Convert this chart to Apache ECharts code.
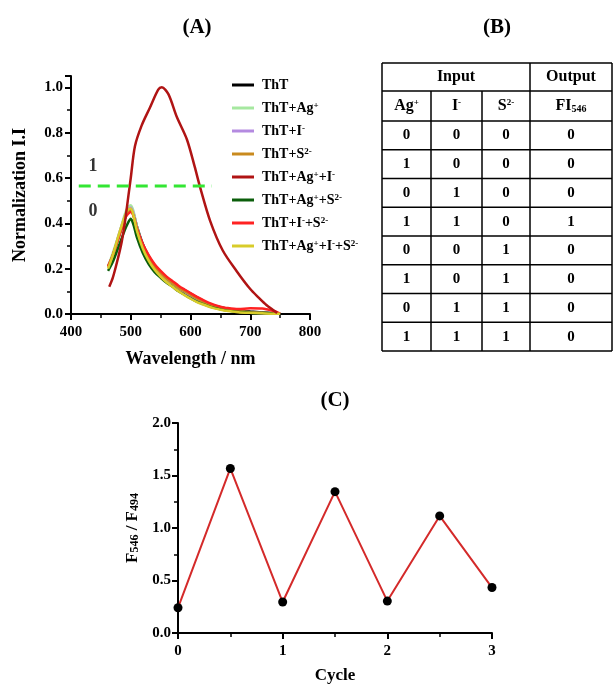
<!DOCTYPE html>
<html>
<head>
<meta charset="utf-8">
<script src="https://cdn.jsdelivr.net/npm/echarts@6/dist/echarts.min.js"></script>
<style>html,body{margin:0;padding:0;background:#fff}#c{width:613px;height:685px}</style>
</head>
<body>
<div id="c"></div>
<script>
// ---------- Panel A data ----------
const wavelengths = [462,470,480,490,495,500,505,510,520,530,540,550,560,570,580,590,600,610,620,630,640,650,660,680,700,720,740,750];
const thtVals      = [0.21,0.26,0.34,0.42,0.45,0.46,0.44,0.39,0.31,0.255,0.215,0.185,0.16,0.14,0.12,0.105,0.09,0.075,0.06,0.047,0.037,0.03,0.024,0.016,0.011,0.007,0.003,0.001];
const thtAgVals    = [0.21,0.27,0.35,0.44,0.47,0.48,0.45,0.39,0.30,0.24,0.20,0.17,0.145,0.125,0.105,0.09,0.075,0.06,0.048,0.037,0.028,0.022,0.017,0.01,0.006,0.004,0.002,0.001];
const thtIVals     = [0.21,0.26,0.35,0.43,0.46,0.47,0.44,0.38,0.30,0.245,0.205,0.175,0.15,0.13,0.11,0.093,0.078,0.063,0.05,0.039,0.03,0.023,0.018,0.011,0.007,0.004,0.002,0.001];
const thtSVals     = [0.21,0.26,0.34,0.42,0.45,0.46,0.43,0.38,0.30,0.25,0.21,0.18,0.155,0.135,0.115,0.1,0.085,0.07,0.056,0.044,0.034,0.027,0.021,0.013,0.008,0.005,0.002,0.001];
const thtAgSVals   = [0.19,0.23,0.30,0.37,0.40,0.42,0.39,0.34,0.27,0.22,0.185,0.16,0.138,0.12,0.1,0.085,0.07,0.056,0.045,0.035,0.027,0.021,0.016,0.01,0.006,0.004,0.002,0.001];
const thtISVals    = [0.21,0.26,0.34,0.42,0.44,0.45,0.43,0.38,0.31,0.26,0.22,0.19,0.165,0.145,0.125,0.108,0.092,0.077,0.063,0.05,0.04,0.032,0.027,0.022,0.025,0.024,0.012,0.002];
const thtAgISVals  = [0.20,0.26,0.35,0.43,0.46,0.465,0.43,0.37,0.29,0.235,0.195,0.165,0.14,0.12,0.1,0.083,0.068,0.054,0.043,0.033,0.025,0.019,0.014,0.008,0.005,0.003,0.001,0.001];
const agIWavelengths = [464,470,479,485,490,496,500,507,518,532,546,552,563,577,594,607,616,633,654,677,700,715,727,737,745];
const thtAgIVals     = [0.12,0.16,0.25,0.32,0.40,0.52,0.60,0.74,0.83,0.91,0.99,1.0,0.97,0.87,0.77,0.65,0.56,0.41,0.28,0.19,0.11,0.07,0.04,0.02,0.005];
const thresholdX = [413, 636];
const thresholdY = 0.565;
const logicLabels = [[437, 0.652, '1'], [437, 0.454, '0']];

const seriesNames = ['ThT','ThT+Ag+','ThT+I-','ThT+S2-','ThT+Ag+ +I-','ThT+Ag+ +S2-','ThT+I- +S2-','ThT+Ag+ +I- +S2-'];
const legendLabels = ['ThT','ThT+Ag{sup|+}','ThT+I{sup|-}','ThT+S{sup|2-}','ThT+Ag{sup|+}+I{sup|-}','ThT+Ag{sup|+}+S{sup|2-}','ThT+I{sup|-}+S{sup|2-}','ThT+Ag{sup|+}+I{sup|-}+S{sup|2-}'];
const seriesColors = ['#000000','#a6e8a0','#b48ae0','#c98a1e','#b01414','#0b5e0b','#ff2222','#d8cc2a'];

// ---------- Panel B data ----------
const tableInputHeaders = ['Ag{sup|+}','I{sup|-}','S{sup|2-}'];
const tableOutputHeader = 'FI{sub|546}';
const tableRows = [[0,0,0,0],[1,0,0,0],[0,1,0,0],[1,1,0,1],[0,0,1,0],[1,0,1,0],[0,1,1,0],[1,1,1,0]];

// ---------- Panel C data ----------
const cycles = [0,0.5,1,1.5,2,2.5,3];
const ratios = [0.24,1.567,0.295,1.346,0.304,1.115,0.433];

const FONT = '"Liberation Serif", "Times New Roman", serif';
const chart = echarts.init(document.getElementById('c'), null, {renderer:'canvas'});

const specData = [thtVals,thtAgVals,thtIVals,thtSVals,null,thtAgSVals,thtISVals,thtAgISVals];
const series = [];
seriesNames.forEach((n,i)=>{
  let data;
  if (i === 4) data = agIWavelengths.map((w,k)=>[w,thtAgIVals[k]]);
  else data = wavelengths.map((w,k)=>[w,specData[i][k]]);
  series.push({name:n,type:'line',xAxisIndex:0,yAxisIndex:0,data,showSymbol:false,symbol:'none',
    smooth:0.3,lineStyle:{width:2.5,color:seriesColors[i]},itemStyle:{color:seriesColors[i]},z:i===4?3:2});
});
series.push({name:'threshold',type:'line',xAxisIndex:0,yAxisIndex:0,symbol:'none',
  data:thresholdX.map(x=>[x,thresholdY]),lineStyle:{color:'#33e633',width:3,type:[12,7]},z:5});
series.push({name:'logic',type:'scatter',xAxisIndex:0,yAxisIndex:0,symbolSize:0,
  data:logicLabels,label:{show:true,position:'inside',formatter:p=>p.value[2],
  fontFamily:FONT,fontWeight:'bold',fontSize:18,color:'#000'}});
series.push({name:'cycle',type:'line',xAxisIndex:1,yAxisIndex:1,data:cycles.map((c,i)=>[c,ratios[i]]),
  symbol:'circle',symbolSize:9,itemStyle:{color:'#000'},lineStyle:{color:'#d42a2a',width:2}});

function axisCommon(fs, margin){
  return {
    axisLine:{show:true,onZero:false,lineStyle:{color:'#000',width:2}},
    axisTick:{show:true,inside:false,length:6,lineStyle:{color:'#000',width:2}},
    minorTick:{show:true,splitNumber:2,length:4,lineStyle:{color:'#000',width:1.5}},
    splitLine:{show:false},
    axisLabel:{color:'#000',fontFamily:FONT,fontWeight:'bold',fontSize:fs,margin:margin},
    nameTextStyle:{color:'#000',fontFamily:FONT,fontWeight:'bold'}
  };
}

// Table graphics
const colX = [382,431,482,530,612];
const rowY = [63,91,121];
for (let i=1;i<=tableRows.length;i++) rowY.push(121 + i*28.75);
const tableGraphic = [];
const LS = {stroke:'#000',lineWidth:1.5};
rowY.forEach((y,i)=>{
  tableGraphic.push({type:'line',shape:{x1:colX[0],y1:y,x2:colX[4],y2:y},style:LS});
});
[0,3,4].forEach(ci=>{
  tableGraphic.push({type:'line',shape:{x1:colX[ci],y1:rowY[0],x2:colX[ci],y2:rowY[rowY.length-1]},style:LS});
});
[1,2].forEach(ci=>{
  tableGraphic.push({type:'line',shape:{x1:colX[ci],y1:rowY[1],x2:colX[ci],y2:rowY[rowY.length-1]},style:LS});
});
const richT = {
  sup:{fontFamily:FONT,fontWeight:'bold',fontSize:9,verticalAlign:'top',fill:'#000',lineHeight:16},
  sub:{fontFamily:FONT,fontWeight:'bold',fontSize:10,verticalAlign:'bottom',fill:'#000',lineHeight:16}
};
function cellText(txt,cx,cy,fs){
  return {type:'text',x:cx,y:cy,style:{text:txt,fill:'#000',fontFamily:FONT,fontWeight:'bold',fontSize:fs,
    align:'center',verticalAlign:'middle',rich:richT}};
}
tableGraphic.push(cellText('Input',(colX[0]+colX[3])/2,(rowY[0]+rowY[1])/2,16));
tableGraphic.push(cellText('Output',(colX[3]+colX[4])/2,(rowY[0]+rowY[1])/2,16));
tableInputHeaders.forEach((h,i)=>tableGraphic.push(cellText(h,(colX[i]+colX[i+1])/2,(rowY[1]+rowY[2])/2,16)));
tableGraphic.push(cellText(tableOutputHeader,(colX[3]+colX[4])/2,(rowY[1]+rowY[2])/2,16));
tableRows.forEach((r,ri)=>{
  r.forEach((v,ci)=>tableGraphic.push(cellText(String(v),(colX[ci]+colX[ci+1])/2,(rowY[ri+2]+rowY[ri+3])/2,15)));
});

const legendMap = {};
seriesNames.forEach((n,i)=>legendMap[n]=legendLabels[i]);

const option = {
  backgroundColor:'#fff',
  animation:false,
  title:[
    {text:'(A)',left:192,top:12,textAlign:'center',textStyle:{fontFamily:FONT,fontWeight:'bold',fontSize:21,color:'#000'}},
    {text:'(B)',left:492,top:12,textAlign:'center',textStyle:{fontFamily:FONT,fontWeight:'bold',fontSize:21,color:'#000'}},
    {text:'(C)',left:330,top:385,textAlign:'center',textStyle:{fontFamily:FONT,fontWeight:'bold',fontSize:21,color:'#000'}}
  ],
  legend:{
    data:seriesNames,orient:'vertical',left:227,top:73,itemWidth:22,itemHeight:3,itemGap:9,icon:'rect',
    formatter:n=>legendMap[n],
    textStyle:{fontFamily:FONT,fontWeight:'bold',fontSize:14,color:'#000',lineHeight:14,padding:[0,0,0,3],
      rich:{sup:{fontFamily:FONT,fontWeight:'bold',fontSize:9,verticalAlign:'top',color:'#000',lineHeight:14}}}
  },
  grid:[
    {left:71,top:76,width:239,height:238},
    {left:178,top:423,width:314,height:217}
  ],
  xAxis:[
    Object.assign(axisCommon(15,11),{gridIndex:0,type:'value',min:400,max:800,interval:100,
      name:'Wavelength / nm',nameLocation:'middle',nameGap:36,
      nameTextStyle:{color:'#000',fontFamily:FONT,fontWeight:'bold',fontSize:18}}),
    Object.assign(axisCommon(15,11),{gridIndex:1,type:'value',min:0,max:3,interval:1,
      name:'Cycle',nameLocation:'middle',nameGap:34,
      nameTextStyle:{color:'#000',fontFamily:FONT,fontWeight:'bold',fontSize:17}})
  ],
  yAxis:[
    Object.assign(axisCommon(15,8),{gridIndex:0,type:'value',min:0,max:1.05,interval:0.2,
      name:'Normalization I.I',nameLocation:'middle',nameGap:42,nameRotate:90,
      nameTextStyle:{color:'#000',fontFamily:FONT,fontWeight:'bold',fontSize:18}}),
    Object.assign(axisCommon(15,7),{gridIndex:1,type:'value',min:0,max:2,interval:0.5,
      name:'F{sub|546} / F{sub|494}',nameLocation:'middle',nameGap:35,nameRotate:90,
      nameTextStyle:{color:'#000',fontFamily:FONT,fontWeight:'bold',fontSize:17,
        rich:{sub:{fontFamily:FONT,fontWeight:'bold',fontSize:12,verticalAlign:'bottom',color:'#000',padding:[6,0,0,0]}}}})
  ],
  series,
  graphic:tableGraphic
};
option.yAxis[0].axisLabel.formatter = v => (Math.abs(v*5 - Math.round(v*5))<1e-6 ? v.toFixed(1) : '');
option.yAxis[1].axisLabel.formatter = v => v.toFixed(1);
chart.setOption(option);
</script>
</body>
</html>
